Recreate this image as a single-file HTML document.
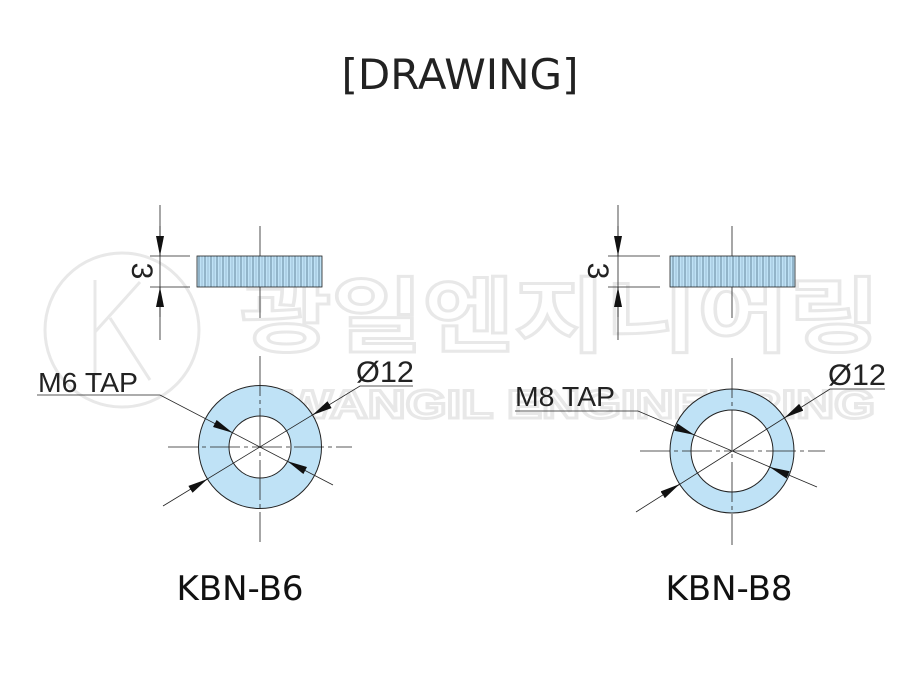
<!DOCTYPE html>
<html><head><meta charset="utf-8"><style>
html,body{margin:0;padding:0;background:#fff}
svg{display:block}
text{font-family:"Liberation Sans","Noto Sans CJK KR",sans-serif}
</style></head><body>
<svg width="921" height="700" viewBox="0 0 921 700" xmlns="http://www.w3.org/2000/svg">
<defs>
<pattern id="kn" width="6" height="40" patternUnits="userSpaceOnUse">
<rect width="6" height="40" fill="#bfe2f6"/>
<line x1="1" y1="0" x2="1" y2="40" stroke="#2a4a60" stroke-width="0.6"/>
<line x1="4" y1="0" x2="4" y2="40" stroke="#6a8aa0" stroke-width="0.4"/>
</pattern>
<marker id="ar" viewBox="0 0 20 8" refX="20" refY="4" markerWidth="20" markerHeight="8" markerUnits="userSpaceOnUse" orient="auto">
<path d="M0,0 L20,4 L0,8 Z" fill="#111"/>
</marker>
</defs>

<!-- watermark -->
<g fill="none" stroke="#e8e8e8" stroke-width="3">
<circle cx="122" cy="330" r="77"/>
<path d="M95 280 V380 M95 332 L140 282 M110 318 L150 380"/>
<text x="240" y="345" font-size="82" font-weight="bold" stroke="#e8e8e8" stroke-width="3" textLength="640" lengthAdjust="spacingAndGlyphs">광일엔지니어링</text>
<text x="245" y="418" font-size="40" font-weight="bold" stroke="#e8e8e8" stroke-width="3" textLength="630" lengthAdjust="spacingAndGlyphs">KWANGIL ENGINEERING</text>
</g>

<text x="460" y="89" font-size="42" text-anchor="middle" fill="#222" style="font-family:'DejaVu Sans',sans-serif">[DRAWING]</text>

<g stroke="#222" stroke-width="0.8" fill="none">
<line x1="160" y1="205" x2="160" y2="340"/>
<line x1="150" y1="256" x2="190" y2="256"/>
<line x1="150" y1="287" x2="190" y2="287"/>
<line x1="160" y1="226" x2="160" y2="256" marker-end="url(#ar)"/>
<line x1="160" y1="317" x2="160" y2="287" marker-end="url(#ar)"/>
<line x1="260" y1="226" x2="260" y2="318"/>
</g>
<rect x="197" y="256" width="125" height="31" fill="url(#kn)" stroke="#222" stroke-width="0.8"/>

<circle cx="260" cy="447" r="61.5" fill="#bfe2f6" stroke="#222" stroke-width="1"/>
<circle cx="260" cy="447" r="31" fill="#fff" stroke="#222" stroke-width="1"/>
<g stroke="#222" stroke-width="0.8" fill="none">
<line x1="260" y1="356" x2="260" y2="542" stroke-dasharray="40,4,4,4"/>
<line x1="168" y1="447" x2="352" y2="447" stroke-dasharray="30,4,4,4"/>
<polyline points="37,395 160,395 333,485"/>
<polyline points="413,386 360,386 163,506"/>
<line x1="214.8" y1="423.5" x2="232.5" y2="432.7" marker-end="url(#ar)"/>
<line x1="305.2" y1="470.5" x2="287.5" y2="461.3" marker-end="url(#ar)"/>
<line x1="329.6" y1="404.6" x2="312.5" y2="415" marker-end="url(#ar)"/>
<line x1="190.4" y1="489.4" x2="207.5" y2="479" marker-end="url(#ar)"/>
</g>
<text x="140" y="271" font-size="30" fill="#222" text-anchor="middle" dominant-baseline="middle" transform="rotate(90 140 271)">3</text>
<text x="38" y="392" font-size="28" fill="#222" textLength="100" lengthAdjust="spacingAndGlyphs">M6 TAP</text>
<text x="356" y="382" font-size="30" fill="#222" textLength="58" lengthAdjust="spacingAndGlyphs">Ø12</text>
<text x="240" y="600" font-size="34" fill="#111" text-anchor="middle" style="font-family:'DejaVu Sans',sans-serif">KBN-B6</text>

<!-- RIGHT -->
<g stroke="#222" stroke-width="0.8" fill="none">
<line x1="618" y1="205" x2="618" y2="340"/>
<line x1="608" y1="256" x2="660" y2="256"/>
<line x1="608" y1="287" x2="660" y2="287"/>
<line x1="618" y1="226" x2="618" y2="256" marker-end="url(#ar)"/>
<line x1="618" y1="317" x2="618" y2="287" marker-end="url(#ar)"/>
<line x1="732" y1="226" x2="732" y2="318"/>
</g>
<rect x="670" y="256" width="125" height="31" fill="url(#kn)" stroke="#222" stroke-width="0.8"/>

<circle cx="732" cy="451" r="62" fill="#bfe2f6" stroke="#222" stroke-width="1"/>
<circle cx="732" cy="451" r="41" fill="#fff" stroke="#222" stroke-width="1"/>
<g stroke="#222" stroke-width="0.8" fill="none">
<line x1="732" y1="358" x2="732" y2="545" stroke-dasharray="40,4,4,4"/>
<line x1="640" y1="451" x2="825" y2="451" stroke-dasharray="30,4,4,4"/>
<polyline points="515,411 638,411 817,487"/>
<polyline points="885,389 830,389 636,512"/>
<line x1="675.8" y1="427.1" x2="694.2" y2="434.9" marker-end="url(#ar)"/>
<line x1="788.2" y1="474.9" x2="769.8" y2="467.1" marker-end="url(#ar)"/>
<line x1="801.3" y1="407.2" x2="784.4" y2="417.9" marker-end="url(#ar)"/>
<line x1="662.7" y1="494.8" x2="679.6" y2="484.1" marker-end="url(#ar)"/>
</g>
<text x="596" y="271" font-size="30" fill="#222" text-anchor="middle" dominant-baseline="middle" transform="rotate(90 596 271)">3</text>
<text x="515" y="406" font-size="28" fill="#222" textLength="100" lengthAdjust="spacingAndGlyphs">M8 TAP</text>
<text x="828" y="385" font-size="30" fill="#222" textLength="58" lengthAdjust="spacingAndGlyphs">Ø12</text>
<text x="729" y="600" font-size="34" fill="#111" text-anchor="middle" style="font-family:'DejaVu Sans',sans-serif">KBN-B8</text>
</svg>
</body></html>
